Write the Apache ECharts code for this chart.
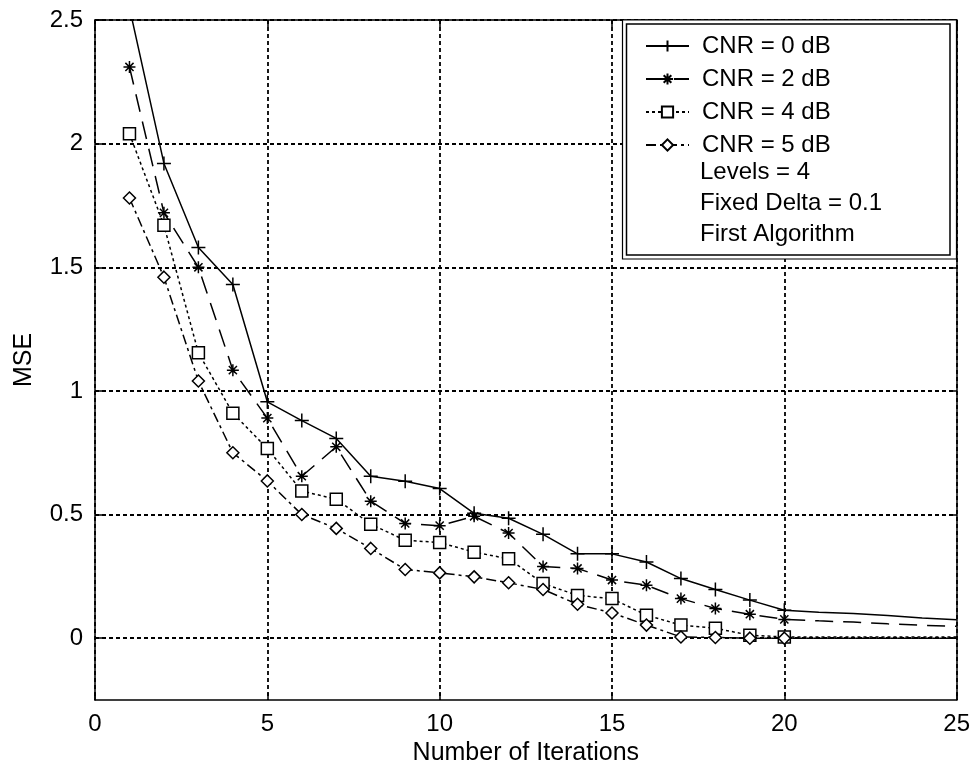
<!DOCTYPE html>
<html>
<head>
<meta charset="utf-8">
<script src="https://cdn.jsdelivr.net/npm/echarts@6/dist/echarts.min.js"></script>
<style>html,body{margin:0;padding:0;background:#fff}#c{width:973px;height:775px}</style>
</head>
<body>
<div id="c"></div>
<script>
var iterations = [1,2,3,4,5,6,7,8,9,10,11,12,13,14,15,16,17,18,19,20,21,22,23,24,25];
var lastMarked = 20;
var seriesNames = ['CNR = 0 dB','CNR = 2 dB','CNR = 4 dB','CNR = 5 dB'];
var cnr0 = [2.55,1.92,1.58,1.43,0.956,0.88,0.808,0.655,0.635,0.605,0.505,0.485,0.42,0.341,0.341,0.308,0.241,0.197,0.154,0.113,0.105,0.1,0.092,0.082,0.075];
var cnr2 = [2.31,1.72,1.50,1.084,0.89,0.655,0.774,0.554,0.464,0.455,0.493,0.425,0.29,0.282,0.235,0.214,0.16,0.12,0.097,0.076,0.07,0.065,0.058,0.052,0.048];
var cnr4 = [2.04,1.67,1.154,0.91,0.767,0.595,0.562,0.461,0.396,0.387,0.348,0.321,0.221,0.173,0.16,0.093,0.053,0.04,0.012,0.005,0.005,0.005,0.005,0.005,0.005];
var cnr5 = [1.78,1.46,1.04,0.75,0.636,0.50,0.444,0.363,0.278,0.264,0.248,0.224,0.197,0.137,0.102,0.053,0.005,0.003,0.0,0.0,0.0,0.0,0.0,0.0,0.0];
var yTicks = [0,0.5,1,1.5,2,2.5];
var xTicks = [0,5,10,15,20,25];
var noteLines = ['Levels = 4','Fixed Delta = 0.1','First Algorithm'];

var FONT = '"Liberation Sans", Arial, sans-serif';
function build(vals){
  return iterations.map(function(x,i){
    var d = {value:[x, vals[i]]};
    if (x > lastMarked) d.symbol = 'none';
    return d;
  });
}
var plusPath = 'path://M5,0L5,10M0,5L10,5';
var starPath = 'path://M5,0L5,10M0,5L10,5M1.6,1.6L8.4,8.4M8.4,1.6L1.6,8.4';
var styles = [
  {symbol: plusPath, size: 14, dash: 'solid', fill: 'none'},
  {symbol: starPath, size: 12, dash: [18,10], fill: 'none'},
  {symbol: 'rect', size: 12, dash: [3,3], fill: '#fff'},
  {symbol: 'diamond', size: 12, dash: [10,4,3,4], fill: '#fff'}
];
var allVals = [cnr0, cnr2, cnr4, cnr5];
var series = allVals.map(function(v,k){
  var s = styles[k];
  return {
    name: seriesNames[k], type: 'line', data: build(v),
    symbol: s.symbol, symbolSize: s.size, showAllSymbol: true,
    clip: true, z: 3,
    lineStyle: {color:'#000', width:1.5, type: s.dash},
    itemStyle: {color: s.fill, borderColor:'#000', borderWidth:1.5}
  };
});

var chart = echarts.init(document.getElementById('c'), null, {renderer:'canvas'});
var axisLineStyle = {show:true, onZero:false, lineStyle:{color:'#000', width:1.5}};
function tick(custom){
  var t = {show:true, inside:true, length:7, lineStyle:{color:'#000', width:1.5}};
  if (custom) t.customValues = custom;
  return t;
}
var gridLine = {show:true, lineStyle:{color:'#000', width:1.8, type:[4,3]}};
chart.setOption({
  backgroundColor: '#fff',
  animation: false,
  grid: {left:95, right:16, top:20, bottom:75, containLabel:false},
  xAxis: [
    {type:'value', min:0, max:25, interval:5, position:'bottom',
      name:'Number of Iterations', nameLocation:'middle', nameGap:40,
      nameTextStyle:{fontFamily:FONT, fontSize:25, color:'#000'},
      axisLine: axisLineStyle, axisTick: tick(),
      axisLabel:{fontFamily:FONT, fontSize:24, color:'#000', margin:12},
      splitLine: gridLine
    },
    {type:'value', min:0, max:25, interval:5, position:'top',
      axisLine: axisLineStyle, axisTick: tick(),
      axisLabel:{show:false}, splitLine:{show:false}}
  ],
  yAxis: [
    {type:'value', min:-0.25, max:2.5, position:'left',
      name:'MSE', nameLocation:'middle', nameGap:58,
      nameTextStyle:{fontFamily:FONT, fontSize:25, color:'#000'},
      axisLine: axisLineStyle, axisTick: tick(yTicks),
      axisLabel:{fontFamily:FONT, fontSize:24, color:'#000', margin:12, customValues: yTicks,
        formatter:function(v){return String(v);}},
      splitLine: gridLine
    },
    {type:'value', min:-0.25, max:2.5, position:'right',
      axisLine: axisLineStyle, axisTick: tick(yTicks),
      axisLabel:{show:false}, splitLine:{show:false}}
  ],
  legend: {
    show:true, orient:'vertical', left:640, top:26, z:20,
    itemWidth:43, itemHeight:14, itemGap:3,
    data: seriesNames,
    textStyle:{fontFamily:FONT, fontSize:24, color:'#000', lineHeight:30, padding:[0,0,0,8]}
  },
  graphic: [
    {type:'rect', z:14, shape:{x:622.5, y:20, width:334, height:239},
      style:{fill:'#fff', stroke:'#000', lineWidth:1.2}},
    {type:'rect', z:15, shape:{x:626.5, y:24, width:323.5, height:231},
      style:{fill:'#fff', stroke:'#000', lineWidth:1.5}}
  ].concat(noteLines.map(function(t,i){
    return {type:'text', z:21, x:700, y: 172 + i*31,
      style:{text:t, font:'24px ' + FONT, fill:'#000', verticalAlign:'middle'}};
  })),
  series: series
});
</script>
</body>
</html>
